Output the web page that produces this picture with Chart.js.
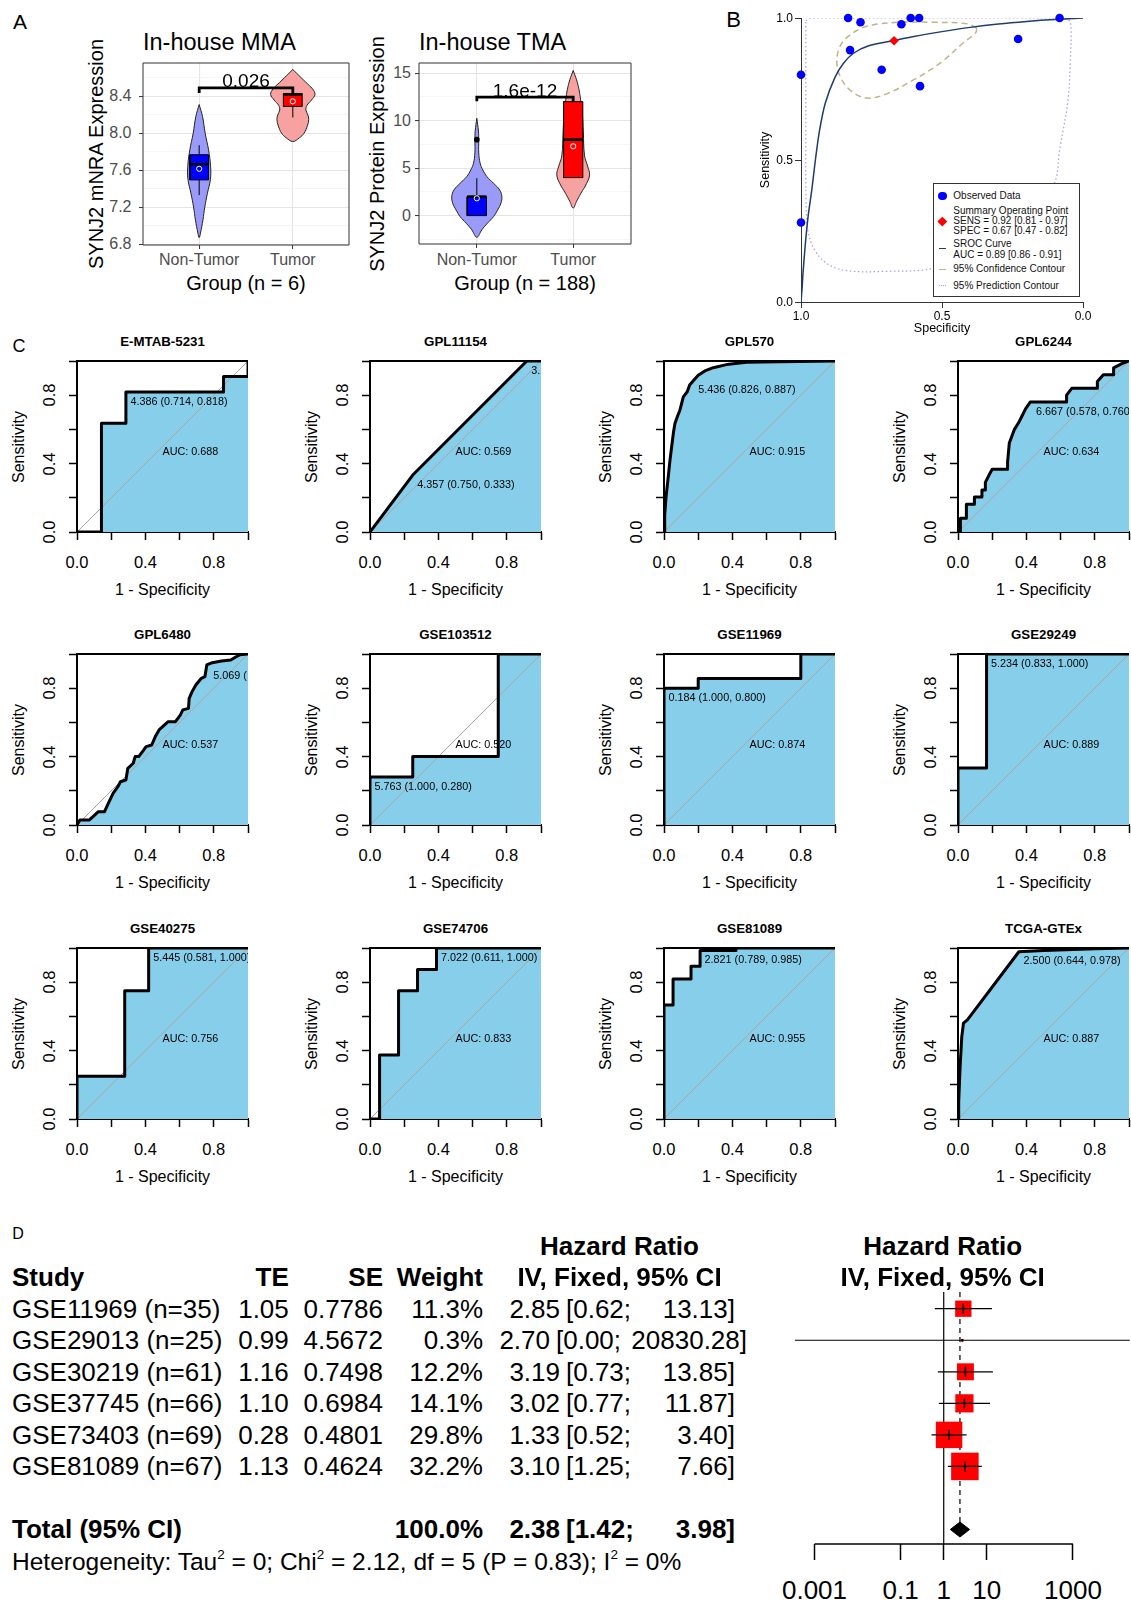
<!DOCTYPE html>
<html>
<head>
<meta charset="utf-8">
<title>SYNJ2 expression, ROC and survival meta-analysis</title>
<script src="https://cdn.jsdelivr.net/npm/chart.js@4.4.1/dist/chart.umd.min.js"></script>
<style>
  html, body { margin: 0; padding: 0; background: #fff; }
  body { position: relative; width: 1131px; height: 1605px; overflow: hidden;
         font-family: "Liberation Sans", Arial, Helvetica, sans-serif; color: #000; }
  canvas { position: absolute; }
  .t { position: absolute; white-space: nowrap; line-height: 1; }
  .clip { position: absolute; overflow: hidden; }
  .t sup { font-size: 0.55em; vertical-align: 0.8em; line-height: 0; }
</style>
</head>
<body>
<script>
// ---------- A: in-house violin plots ----------
const groups = ['Non-Tumor', 'Tumor'];

const mmaMajor = [6.8, 7.2, 7.6, 8.0, 8.4];
const mmaMinor = [7.0, 7.4, 7.8, 8.2, 8.6];
// violin outline, top to bottom: [expression, half width in group units]
const mmaViolinNT = [[8.31,0],[8.18,0.036],[8.0,0.064],[7.82,0.1],[7.64,0.122],[7.5,0.12],[7.35,0.088],[7.2,0.06],[7.06,0.04],[6.92,0.014],[6.87,0]];
const mmaViolinT = [[8.69,0],[8.65,0.04],[8.6,0.09],[8.55,0.14],[8.48,0.21],[8.42,0.237],[8.36,0.2],[8.3,0.15],[8.25,0.14],[8.2,0.16],[8.15,0.17],[8.08,0.155],[8.0,0.12],[7.95,0.07],[7.91,0]];
// [lower whisker, Q1, median, Q3, upper whisker, mean]
const mmaBoxNT = [7.33, 7.495, 7.665, 7.767, 7.87, 7.615];
const mmaBoxT = [8.17, 8.29, 8.42, 8.43, 8.43, 8.345];
const mmaP = ['0.026', 8.49];

const tmaMajor = [0, 5, 10, 15];
const tmaMinor = [-2.5, 2.5, 7.5, 12.5];
const tmaViolinNT = [[10.25,0],[8.9,0.017],[8.0,0.02],[6.6,0.02],[5.5,0.035],[4.8,0.063],[4.1,0.105],[3.4,0.174],[2.7,0.237],[2.0,0.26],[1.3,0.25],[0.6,0.216],[-0.1,0.174],[-0.8,0.11],[-1.5,0.052],[-2.28,0]];
const tmaViolinT = [[15.28,0],[14.3,0.035],[13.3,0.06],[12.2,0.077],[10.9,0.094],[8.8,0.105],[6.3,0.118],[5.2,0.15],[4.3,0.17],[3.4,0.14],[2.35,0.08],[1.5,0.035],[0.8,0]];
const tmaBoxNT = [0, 0, 2, 2, 3.94, 1.82];
const tmaBoxT = [4, 4, 8, 12, 12, 7.3];
const tmaOutliersNT = [8];
const tmaP = ['1.6e-12', 12.47];

// ---------- B: SROC ----------
const studySpec = [0.714, 0.083, 0.826, 0.578, 0.230, 1.000, 1.000, 0.833, 0.581, 0.611, 0.789, 0.644];
const studySens = [0.818, 1.000, 0.887, 0.760, 0.926, 0.280, 0.800, 1.000, 1.000, 1.000, 0.985, 0.978];
const summaryPoint = [0.67, 0.92];          // [spec, sens]
const summarySensCI = [0.81, 0.97];
const summarySpecCI = [0.47, 0.82];
const srocAuc = [0.89, 0.86, 0.91];
const srocCurve = [[1,0],[0.996,0.05],[0.993,0.1],[0.985,0.2],[0.975,0.3],[0.961,0.4],[0.949,0.5],[0.935,0.6],[0.914,0.7],[0.88,0.79],[0.85,0.84],[0.815,0.875],[0.76,0.902],[0.669,0.921],[0.6,0.935],[0.5,0.952],[0.4,0.967],[0.3,0.979],[0.2,0.988],[0.1,0.995],[0,1]];
const confContour = [[0.377,0.965],[0.413,0.98],[0.531,0.985],[0.649,0.985],[0.743,0.976],[0.802,0.956],[0.855,0.912],[0.873,0.853],[0.861,0.794],[0.825,0.745],[0.767,0.718],[0.696,0.733],[0.601,0.782],[0.507,0.841],[0.425,0.912],[0.38,0.949],[0.377,0.965]];
const predContour = [[0.983,0.99],[0.967,1.0],[0.5,1.0],[0.07,1.0],[0.048,0.99],[0.042,0.95],[0.045,0.85],[0.053,0.712],[0.083,0.535],[0.104,0.412],[0.2,0.3],[0.35,0.18],[0.531,0.118],[0.7,0.108],[0.825,0.109],[0.9,0.13],[0.95,0.18],[0.975,0.25],[0.982,0.35],[0.983,0.6],[0.983,0.9],[0.983,0.99]];
const bTicks = [0, 0.5, 1];

// ---------- C: ROC curves per dataset, [1 - specificity, sensitivity] ----------
const rocNames = ['E-MTAB-5231', 'GPL11154', 'GPL570', 'GPL6244', 'GPL6480', 'GSE103512',
                  'GSE11969', 'GSE29249', 'GSE40275', 'GSE74706', 'GSE81089', 'TCGA-GTEx'];
const rocAuc = ['0.688', '0.569', '0.915', '0.634', '0.537', '0.520', '0.874', '0.889', '0.756', '0.833', '0.955', '0.887'];
const rocEMTAB5231 = [[0,0],[0.143,0],[0.143,0.636],[0.286,0.636],[0.286,0.818],[0.857,0.818],[0.857,0.909],[1,0.909],[1,1]];
const rocGPL11154 = [[0,0],[0.25,0.333],[0.917,1],[1,1]];
const rocGPL570 = [[0,0],[0.004,0.1],[0.012,0.206],[0.025,0.323],[0.035,0.42],[0.045,0.5],[0.055,0.58],[0.064,0.634],[0.08,0.68],[0.093,0.712],[0.105,0.76],[0.113,0.79],[0.136,0.82],[0.15,0.86],[0.174,0.887],[0.2,0.916],[0.239,0.942],[0.288,0.961],[0.366,0.979],[0.482,0.992],[0.677,0.996],[1,1]];
const rocGPL6244 = [[0,0],[0.014,0],[0.014,0.08],[0.049,0.08],[0.049,0.163],[0.096,0.163],[0.096,0.204],[0.14,0.204],[0.14,0.245],[0.16,0.245],[0.16,0.29],[0.18,0.33],[0.2,0.367],[0.29,0.367],[0.29,0.41],[0.3,0.52],[0.315,0.56],[0.33,0.6],[0.355,0.64],[0.375,0.68],[0.395,0.72],[0.422,0.76],[0.635,0.76],[0.635,0.8],[0.665,0.84],[0.815,0.84],[0.815,0.88],[0.85,0.92],[0.91,0.92],[0.91,0.96],[0.97,0.99],[1,1]];
const rocGPL6480 = [[0,0],[0.017,0.029],[0.071,0.029],[0.103,0.058],[0.125,0.078],[0.161,0.078],[0.183,0.127],[0.211,0.185],[0.239,0.224],[0.254,0.253],[0.286,0.263],[0.297,0.331],[0.329,0.361],[0.34,0.4],[0.361,0.4],[0.383,0.429],[0.404,0.458],[0.437,0.468],[0.458,0.517],[0.48,0.556],[0.512,0.585],[0.533,0.604],[0.576,0.604],[0.604,0.643],[0.619,0.673],[0.652,0.682],[0.656,0.741],[0.673,0.78],[0.695,0.819],[0.727,0.858],[0.748,0.867],[0.759,0.936],[0.791,0.949],[0.845,0.959],[0.899,0.965],[0.931,0.984],[0.953,0.996],[1,1]];
const rocGSE103512 = [[0,0],[0,0.28],[0.25,0.28],[0.25,0.4],[0.75,0.4],[0.75,1],[1,1]];
const rocGSE11969 = [[0,0],[0,0.8],[0.2,0.8],[0.2,0.857],[0.8,0.857],[0.8,1],[1,1]];
const rocGSE29249 = [[0,0],[0,0.333],[0.167,0.333],[0.167,1],[1,1]];
const rocGSE40275 = [[0,0],[0,0.25],[0.279,0.25],[0.279,0.75],[0.419,0.75],[0.419,1],[1,1]];
const rocGSE74706 = [[0,0],[0.056,0],[0.056,0.375],[0.167,0.375],[0.167,0.75],[0.278,0.75],[0.278,0.875],[0.389,0.875],[0.389,1],[1,1]];
const rocGSE81089 = [[0,0],[0,0.667],[0.053,0.667],[0.053,0.818],[0.158,0.818],[0.158,0.894],[0.211,0.894],[0.211,0.985],[0.421,0.985],[0.421,1],[1,1]];
const rocTCGAGTEx = [[0,0],[0.004,0.1],[0.012,0.3],[0.022,0.48],[0.032,0.56],[0.055,0.58],[0.356,0.978],[0.5,0.985],[0.8,0.995],[1,1]];
// threshold labels: [text, 1 - specificity, sensitivity]
const rocCuts = [
  [['4.386 (0.714, 0.818)', 0.286, 0.818]],
  [['4.357 (0.750, 0.333)', 0.25, 0.333], ['3.', 0.917, 1.0]],
  [['5.436 (0.826, 0.887)', 0.174, 0.887]],
  [['6.667 (0.578, 0.760)', 0.43, 0.760]],
  [['5.069 (', 0.77, 0.926]],
  [['5.763 (1.000, 0.280)', 0, 0.280]],
  [['0.184 (1.000, 0.800)', 0, 0.800]],
  [['5.234 (0.833, 1.000)', 0.167, 1.0]],
  [['5.445 (0.581, 1.000)', 0.419, 1.0]],
  [['7.022 (0.611, 1.000)', 0.389, 1.0]],
  [['2.821 (0.789, 0.985)', 0.211, 0.985]],
  [['2.500 (0.644, 0.978)', 0.356, 0.978]]
];
const rocTicks = [0, 0.2, 0.4, 0.6, 0.8, 1.0];
const rocTickLabels = [0, 0.4, 0.8];

// ---------- D: forest plot ----------
const studies = ['GSE11969 (n=35)', 'GSE29013 (n=25)', 'GSE30219 (n=61)', 'GSE37745 (n=66)', 'GSE73403 (n=69)', 'GSE81089 (n=67)'];
const te = [1.05, 0.99, 1.16, 1.10, 0.28, 1.13];
const se = [0.7786, 4.5672, 0.7498, 0.6984, 0.4801, 0.4624];
const weight = [11.3, 0.3, 12.2, 14.1, 29.8, 32.2];
const hr = [2.85, 2.70, 3.19, 3.02, 1.33, 3.10];
const hrLow = [0.62, 0.00035, 0.73, 0.77, 0.52, 1.25];
const hrHigh = [13.13, 20830.28, 13.85, 11.87, 3.40, 7.66];
const totalHr = [2.38, 1.42, 3.98];   // estimate, lower, upper
const totalWeight = 100.0;
const hetStats = [0, 2.12, 5, 0.83, 0]; // tau2, chi2, df, p, I2
const hrTicks = [0.001, 0.1, 1, 10, 1000];

// ---------- helpers ----------
Chart.defaults.font.family = '"Liberation Sans", Arial, sans-serif';
Chart.register({
  id: 'frame',
  defaults: { sides: '', color: '#000', width: 1 },
  afterDatasetsDraw(chart, args, o) {
    if (!o.sides) return;
    const a = chart.chartArea, ctx = chart.ctx;
    ctx.save();
    ctx.strokeStyle = o.color;
    ctx.lineWidth = o.width;
    ctx.beginPath();
    if (o.sides.includes('t')) { ctx.moveTo(a.left, a.top); ctx.lineTo(a.right, a.top); }
    if (o.sides.includes('b')) { ctx.moveTo(a.left, a.bottom); ctx.lineTo(a.right, a.bottom); }
    if (o.sides.includes('l')) { ctx.moveTo(a.left, a.top); ctx.lineTo(a.left, a.bottom); }
    if (o.sides.includes('r')) { ctx.moveTo(a.right, a.top); ctx.lineTo(a.right, a.bottom); }
    ctx.stroke();
    ctx.restore();
  }
});

const page = document.body;

function txt(html, x, y, o) {
  o = o || {};
  const d = document.createElement('div');
  d.className = 't';
  d.innerHTML = html;
  d.style.left = x + 'px';
  d.style.top = y + 'px';
  d.style.fontSize = (o.size || 12) + 'px';
  if (o.bold) d.style.fontWeight = 'bold';
  if (o.color) d.style.color = o.color;
  const tx = o.align === 'left' ? '0%' : o.align === 'right' ? '-100%' : '-50%';
  d.style.transform = 'translate(' + tx + ',-50%)' + (o.rot ? ' rotate(' + o.rot + 'deg)' : '');
  (o.parent || page).appendChild(d);
  return d;
}

function pts(pairs) { return pairs.map(([x, y]) => ({ x, y })); }
function seg(pairs, color, width, extra) {
  return Object.assign({ data: pts(pairs), borderColor: color, borderWidth: width, pointRadius: 0, fill: false, tension: 0 }, extra || {});
}
function dots(pairs, extra) {
  return Object.assign({ data: pts(pairs), showLine: false, pointRadius: 3, pointBorderWidth: 0 }, extra || {});
}

// box = plot area on the page, m = room for axes around it
function makeChart(box, m, datasets, scales, plugins) {
  const W = m.l + box.w + m.r, H = m.t + box.h + m.b;
  const cv = document.createElement('canvas');
  cv.width = W; cv.height = H;
  cv.style.left = (box.x - m.l) + 'px';
  cv.style.top = (box.y - m.t) + 'px';
  cv.style.width = W + 'px';
  cv.style.height = H + 'px';
  page.appendChild(cv);
  scales.x.afterFit = s => { s.height = m.b; };
  scales.y.afterFit = s => { s.width = m.l; };
  const chart = new Chart(cv, {
    type: 'line',
    data: { datasets: datasets.slice().reverse() },   // first dataset is painted last in Chart.js
    options: {
      responsive: false, animation: false, devicePixelRatio: 1, events: [],
      layout: { autoPadding: false, padding: { left: 0, right: m.r, top: m.t, bottom: 0 } },
      scales: scales,
      plugins: Object.assign({ legend: { display: false }, tooltip: { enabled: false } }, plugins || {})
    }
  });
  chart.ox = box.x - m.l;
  chart.oy = box.y - m.t;
  return chart;
}
const px = (c, v) => c.ox + c.scales.x.getPixelForValue(v);
const py = (c, v) => c.oy + c.scales.y.getPixelForValue(v);

// ---------- A ----------
function ggScale(min, max, major, minor) {
  const all = major.concat(minor || []).sort((a, b) => a - b);
  const isMajor = c => !!c.tick && major.some(t => Math.abs(t - c.tick.value) < 1e-9);
  return {
    type: 'linear', min: min, max: max,
    afterBuildTicks: s => { s.ticks = all.map(v => ({ value: v })); },
    ticks: { display: false },
    grid: {
      color: c => isMajor(c) ? '#E4E4E4' : '#F1F1F1',
      lineWidth: c => isMajor(c) ? 1.1 : 0.7,
      tickColor: c => isMajor(c) ? '#333333' : 'rgba(0,0,0,0)',
      tickWidth: 1, tickLength: 4
    },
    border: { display: false }
  };
}

function violinPanel(box, yMin, yMax, major, minor, violins, boxes, outliers, sig, sigTip) {
  const ds = [];
  const violinFill = ['#9A9AF9', '#F8A1A1'];
  const boxFill = ['#0000FF', '#FF0000'];
  violins.forEach((prof, i) => {
    const cx = i + 1;
    const left = prof.map(([y, w]) => ({ x: cx - w, y }));
    const right = prof.slice(0, -1).reverse().map(([y, w]) => ({ x: cx + w, y }));
    ds.push({ data: left.concat(right), borderColor: '#222', borderWidth: 1, backgroundColor: violinFill[i], fill: 'shape', pointRadius: 0, tension: 0.4 });
  });
  boxes.forEach((b, i) => {
    const cx = i + 1, hw = 0.1;
    ds.push(seg([[cx, b[0]], [cx, b[1]]], '#000', 1));
    ds.push(seg([[cx, b[3]], [cx, b[4]]], '#000', 1));
    ds.push({ data: pts([[cx - hw, b[1]], [cx + hw, b[1]], [cx + hw, b[3]], [cx - hw, b[3]], [cx - hw, b[1]]]),
              borderColor: '#000', borderWidth: 1, backgroundColor: boxFill[i], fill: 'shape', pointRadius: 0 });
    ds.push(seg([[cx - hw, b[2]], [cx + hw, b[2]]], '#000', 2.6));
    ds.push(dots([[cx, b[5]]], { pointRadius: 2.6, pointBackgroundColor: 'rgba(0,0,0,0)', pointBorderColor: '#FFFFFF', pointBorderWidth: 1 }));
  });
  outliers.forEach(v => ds.push(dots([[1, v]], { pointRadius: 2.8, pointBackgroundColor: '#000' })));
  ds.push(seg([[1, sig[1] - sigTip], [1, sig[1]], [2, sig[1]], [2, sig[1] - sigTip]], '#000', 2.8, { borderCapStyle: 'square' }));
  return makeChart(box, { l: 5, r: 1, t: 1, b: 5 }, ds,
    { x: ggScale(0.4, 2.6, [1, 2]), y: ggScale(yMin, yMax, major, minor) },
    { frame: { sides: 'tblr', color: '#333333', width: 1 } });
}

txt('A', 20, 20.5, { size: 21 });

const mma = violinPanel({ x: 143, y: 63, w: 206, h: 182 }, 6.79, 8.76, mmaMajor, mmaMinor,
  [mmaViolinNT, mmaViolinT], [mmaBoxNT, mmaBoxT], [], mmaP, 0.04);
const tma = violinPanel({ x: 419, y: 63, w: 212, h: 181 }, -2.99, 16.07, tmaMajor, tmaMinor,
  [tmaViolinNT, tmaViolinT], [tmaBoxNT, tmaBoxT], tmaOutliersNT, tmaP, 0.28);

[[mma, 'In-house MMA', 'SYNJ2 mNRA Expression', 'Group (n = 6)', mmaMajor, 1, 95.7, 11.5],
 [tma, 'In-house TMA', 'SYNJ2 Protein Expression', 'Group (n = 188)', tmaMajor, 0, 377.2, 8]].forEach(p => {
  const c = p[0], a = c.chartArea;
  const left = c.ox + a.left, right = c.ox + a.right, mid = (left + right) / 2;
  txt(p[1], left, 43, { size: 23.5, align: 'left' });
  txt(p[2], p[6], c.oy + (a.top + a.bottom) / 2, { size: 20, rot: -90 });
  txt(p[3], mid, 282.7, { size: 20 });
  groups.forEach((g, i) => txt(g, px(c, i + 1), 260, { size: 16, color: '#4D4D4D' }));
  p[4].forEach(v => txt(v.toFixed(p[5]), left - p[7], py(c, v), { size: 16, color: '#4D4D4D', align: 'right' }));
});
txt(mmaP[0], px(mma, 1.5), py(mma, 8.58), { size: 19 });
txt(tmaP[0], px(tma, 1.5), py(tma, 13.24), { size: 19 });

// ---------- B ----------
function bScale(rev) {
  return {
    type: 'linear', min: 0, max: 1, reverse: rev,
    afterBuildTicks: s => { s.ticks = bTicks.map(v => ({ value: v })); },
    ticks: { display: false },
    grid: { drawOnChartArea: false, tickLength: 6, tickColor: '#333', tickWidth: 1 },
    border: { display: true, color: '#333', width: 1 }
  };
}
const sroc = makeChart({ x: 801, y: 18, w: 282, h: 284 }, { l: 8, r: 6, t: 6, b: 8 }, [
  seg(predContour, '#9C9CFF', 1.2, { borderDash: [1.5, 2.5], tension: 0.35 }),
  seg(confContour, '#C2B38C', 1.5, { borderDash: [6, 4], tension: 0.35 }),
  seg(srocCurve, '#1E3C6C', 1.5, { tension: 0.25 }),
  dots(studySpec.map((s, i) => [s, studySens[i]]), { pointRadius: 4.3, pointBackgroundColor: '#0000FF', clip: false }),
  dots([summaryPoint], { pointStyle: 'rectRot', pointRadius: 4.8, pointBackgroundColor: '#FF0000', clip: false })
], { x: bScale(true), y: bScale(false) });

txt('B', 733.5, 20, { size: 22 });
bTicks.forEach(v => {
  txt(v.toFixed(1), 793, py(sroc, v), { size: 12, align: 'right' });
  txt(v.toFixed(1), px(sroc, v), 316, { size: 12 });
});
txt('Sensitivity', 765, 160, { size: 12.5, rot: -90 });
txt('Specificity', 942, 328, { size: 12.5 });

// legend box
const lg = document.createElement('div');
Object.assign(lg.style, { position: 'absolute', left: '933px', top: '183px', width: '145px', height: '112px',
  border: '1px solid #333', background: '#fff' });
page.appendChild(lg);
function sym(css) {
  const d = document.createElement('div');
  d.style.position = 'absolute';
  Object.assign(d.style, css);
  page.appendChild(d);
}
sym({ left: '938px', top: '191.7px', width: '8.6px', height: '8.6px', borderRadius: '50%', background: '#0000FF' });
sym({ left: '939px', top: '217.7px', width: '6.6px', height: '6.6px', background: '#FF0000', transform: 'rotate(45deg)' });
sym({ left: '939px', top: '247.6px', width: '6.7px', height: '1.4px', background: '#1E3C6C' });
sym({ left: '939px', top: '268.6px', width: '6.7px', height: '1.4px', background: '#C2B38C' });
sym({ left: '939px', top: '285px', width: '7px', height: '0', borderTop: '1.3px dotted #9C9CFF' });
const lgFont = { size: 10, align: 'left', color: '#111' };
txt('Observed Data', 953.3, 196, lgFont);
txt('Summary Operating Point', 953.3, 211, lgFont);
txt('SENS = ' + summaryPoint[1].toFixed(2) + ' [' + summarySensCI[0].toFixed(2) + ' - ' + summarySensCI[1].toFixed(2) + ']', 953.3, 221, lgFont);
txt('SPEC = ' + summaryPoint[0].toFixed(2) + ' [' + summarySpecCI[0].toFixed(2) + ' - ' + summarySpecCI[1].toFixed(2) + ']', 953.3, 231, lgFont);
txt('SROC Curve', 953.3, 244.3, lgFont);
txt('AUC = ' + srocAuc[0].toFixed(2) + ' [' + srocAuc[1].toFixed(2) + ' - ' + srocAuc[2].toFixed(2) + ']', 953.3, 254.7, lgFont);
txt('95% Confidence Contour', 953.3, 269.3, lgFont);
txt('95% Prediction Contour', 953.3, 285.7, lgFont);

// ---------- C ----------
const rocCurves = [rocEMTAB5231, rocGPL11154, rocGPL570, rocGPL6244, rocGPL6480, rocGSE103512,
                   rocGSE11969, rocGSE29249, rocGSE40275, rocGSE74706, rocGSE81089, rocTCGAGTEx];
const rocColX = [77, 370, 664, 958];
const rocRowY = [361, 654, 948];
function rocScale() {
  return {
    type: 'linear', min: 0, max: 1,
    afterBuildTicks: s => { s.ticks = rocTicks.map(v => ({ value: v })); },
    ticks: { display: false },
    grid: { drawOnChartArea: false, tickLength: 8, tickColor: '#000', tickWidth: 1.5 },
    border: { display: true, color: '#000', width: 2 }
  };
}
txt('C', 19, 345.5, { size: 18 });
rocCurves.forEach((curve, i) => {
  const box = { x: rocColX[i % 4], y: rocRowY[Math.floor(i / 4)], w: 171, h: 171 };
  const p = pts(curve);
  const c = makeChart(box, { l: 10, r: 3, t: 3, b: 10 }, [
    { data: p, fill: 'origin', backgroundColor: '#87CEEB', borderWidth: 0, borderColor: 'rgba(0,0,0,0)', pointRadius: 0 },
    seg([[0, 0], [1, 1]], '#B0A59E', 1),
    { data: p, borderColor: '#000', borderWidth: 3, borderJoinStyle: 'round', borderCapStyle: 'round', pointRadius: 0, fill: false }
  ], { x: rocScale(), y: rocScale() }, { frame: { sides: 't', color: '#000', width: 2 } });

  txt(rocNames[i], box.x + box.w / 2, box.y - 19.5, { size: 13.3, bold: true });
  rocTickLabels.forEach(v => {
    txt(v.toFixed(1), px(c, v), box.y + box.h + 29.7, { size: 16.5 });
    txt(v.toFixed(1), box.x - 28, py(c, v), { size: 16.5, rot: -90 });
  });
  txt('Sensitivity', box.x - 58, box.y + box.h / 2, { size: 16, rot: -90 });
  txt('1 - Specificity', box.x + box.w / 2, box.y + box.h + 58, { size: 16 });

  const clip = document.createElement('div');
  clip.className = 'clip';
  Object.assign(clip.style, { left: box.x + 'px', top: box.y + 'px', width: box.w + 'px', height: box.h + 'px' });
  page.appendChild(clip);
  rocCuts[i].forEach(([label, fpr, sens]) => {
    txt(label, px(c, fpr) - box.x + 4.5, py(c, sens) - box.y + 8.5, { size: 10.8, align: 'left', parent: clip });
  });
  txt('AUC: ' + rocAuc[i], px(c, 0.5) - box.x, py(c, 0.5) - box.y + 4.6, { size: 10.8, align: 'left', parent: clip });
});

// ---------- D ----------
const fYMin = 0.47, fYMax = 8.46, totalRow = 8, dh = 0.238, sqK = 4.85;
const est = hr.map((v, i) => [v, i + 1]);
const forest = makeChart({ x: 792, y: 1292, w: 339, h: 252 }, { l: 0, r: 0, t: 2, b: 20 }, [
  seg([[1, fYMin], [1, fYMax]], '#000', 1.2),
  seg([[totalHr[0], fYMin], [totalHr[0], totalRow - dh]], '#000', 1.2, { borderDash: [5, 4] }),
  dots(est, { pointStyle: 'rect', pointRadius: weight.map(w => sqK * Math.sqrt(w) / Math.SQRT2), pointBackgroundColor: '#FF0000' }),
  ...hr.map((v, i) => seg([[hrLow[i], i + 1], [hrHigh[i], i + 1]], '#000', 1.2)),
  dots(est, { pointStyle: 'line', pointRotation: 90, pointRadius: weight.map(w => Math.min(5, sqK * Math.sqrt(w) / 2)),
              pointBorderColor: '#000', pointBorderWidth: 1.5 }),
  { data: pts([[totalHr[1], totalRow], [totalHr[0], totalRow - dh], [totalHr[2], totalRow], [totalHr[0], totalRow + dh], [totalHr[1], totalRow]]),
    fill: 'shape', backgroundColor: '#000', borderColor: '#000', borderWidth: 1, pointRadius: 0 },
  seg([[hrTicks[0], fYMax], [hrTicks[hrTicks.length - 1], fYMax]], '#000', 1.5, { clip: false })
], {
  x: { type: 'logarithmic', min: Math.pow(10, -3.505), max: Math.pow(10, 4.348),
       afterBuildTicks: s => { s.ticks = hrTicks.map(v => ({ value: v })); },
       ticks: { display: false },
       grid: { drawOnChartArea: false, tickLength: 16, tickColor: '#000', tickWidth: 1.5 },
       border: { display: false } },
  y: { type: 'linear', display: false, reverse: true, min: fYMin, max: fYMax }
});

hrTicks.forEach(v => txt(String(v), px(forest, v), 1590, { size: 26 }));
txt('Hazard Ratio', 942.7, 1246, { size: 26, bold: true });
txt('IV, Fixed, 95% CI', 942.7, 1277.3, { size: 26, bold: true });

const F = 26;
const colTE = 288.8, colSE = 383, colW = 483, colEst = 560, colLo = 566, colHi = 735;
txt('D', 18, 1233.5, { size: 16 });
txt('Hazard Ratio', 619.5, 1246, { size: F, bold: true });
txt('Study', 12, 1277.3, { size: F, bold: true, align: 'left' });
txt('TE', colTE, 1277.3, { size: F, bold: true, align: 'right' });
txt('SE', colSE, 1277.3, { size: F, bold: true, align: 'right' });
txt('Weight', colW, 1277.3, { size: F, bold: true, align: 'right' });
txt('IV, Fixed, 95% CI', 619.5, 1277.3, { size: F, bold: true });
studies.forEach((s, i) => {
  const y = py(forest, i + 1);
  const wide = hrHigh[i] >= 1000 ? 1 : 0;
  txt(s, 12, y, { size: F, align: 'left' });
  txt(te[i].toFixed(2), colTE, y, { size: F, align: 'right' });
  txt(se[i].toFixed(4), colSE, y, { size: F, align: 'right' });
  txt(weight[i].toFixed(1) + '%', colW, y, { size: F, align: 'right' });
  txt(hr[i].toFixed(2), colEst - 10 * wide, y, { size: F, align: 'right' });
  txt('[' + hrLow[i].toFixed(2) + ';', colLo - 10 * wide, y, { size: F, align: 'left' });
  txt(hrHigh[i].toFixed(2) + ']', colHi + 12 * wide, y, { size: F, align: 'right' });
});
const yTot = py(forest, totalRow);
txt('Total (95% CI)', 12, yTot, { size: F, bold: true, align: 'left' });
txt(totalWeight.toFixed(1) + '%', colW, yTot, { size: F, bold: true, align: 'right' });
txt(totalHr[0].toFixed(2), colEst, yTot, { size: F, bold: true, align: 'right' });
txt('[' + totalHr[1].toFixed(2) + ';', colLo, yTot, { size: F, bold: true, align: 'left' });
txt(totalHr[2].toFixed(2) + ']', colHi, yTot, { size: F, bold: true, align: 'right' });
txt('Heterogeneity: Tau<sup>2</sup> = ' + hetStats[0] + '; Chi<sup>2</sup> = ' + hetStats[1].toFixed(2) +
    ', df = ' + hetStats[2] + ' (P = ' + hetStats[3].toFixed(2) + '); I<sup>2</sup> = ' + hetStats[4] + '%',
    12, 1561.7, { size: 24.5, align: 'left' });
</script>
</body>
</html>
